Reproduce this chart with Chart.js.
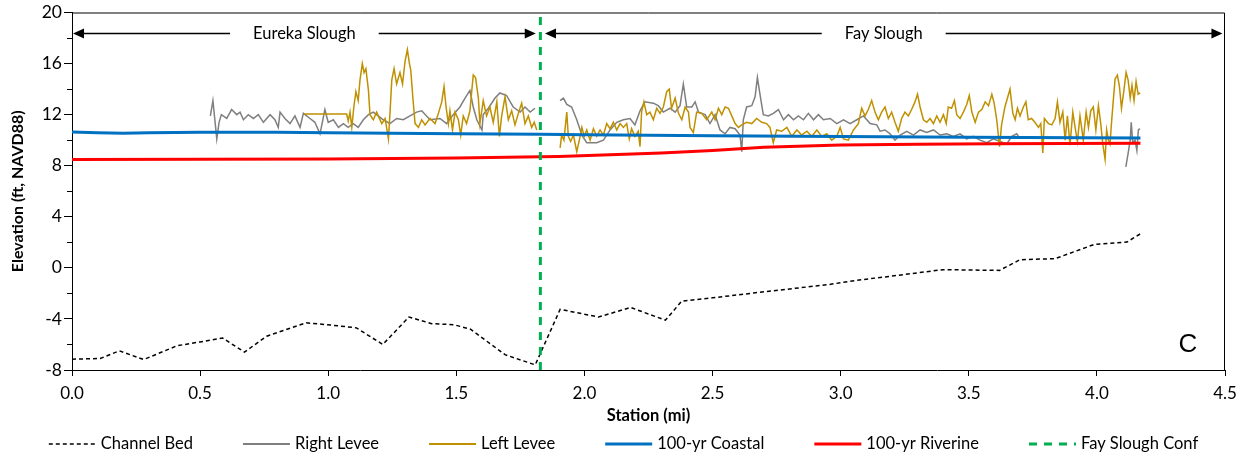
<!DOCTYPE html>
<html><head><meta charset="utf-8">
<script src="https://cdn.jsdelivr.net/npm/chart.js@4.4.1/dist/chart.umd.min.js"></script>
<style>html,body{margin:0;padding:0;background:#fff;}#wrap{width:1247px;height:456px;}</style>
</head><body><div id="wrap"><canvas id="c" width="1247" height="456"></canvas></div>
<script>
// ---------------- data ----------------
const seriesNames = ['Channel Bed', 'Right Levee', 'Left Levee', '100-yr Coastal', '100-yr Riverine', 'Fay Slough Conf'];

const bedStation = [0.0, 0.11, 0.185, 0.28, 0.41, 0.50, 0.588, 0.673, 0.76, 0.914, 1.02, 1.11, 1.213, 1.315, 1.404, 1.49, 1.555, 1.69, 1.808, 1.905, 2.055, 2.18, 2.316, 2.38, 2.50, 2.66, 2.96, 3.036, 3.40, 3.62, 3.70, 3.837, 3.99, 4.117, 4.17];
const bedElev    = [-7.15, -7.1, -6.5, -7.18, -6.1, -5.8, -5.5, -6.6, -5.35, -4.3, -4.5, -4.7, -6.0, -3.85, -4.37, -4.45, -4.8, -6.8, -7.6, -3.25, -3.85, -3.1, -4.1, -2.6, -2.35, -1.97, -1.29, -1.05, -0.14, -0.2, 0.64, 0.72, 1.84, 2.02, 2.67];

const rightStation = [0.54, 0.55, 0.558, 0.565, 0.574, 0.583, 0.604, 0.623, 0.643, 0.656, 0.669, 0.688, 0.708, 0.727, 0.747, 0.773, 0.792, 0.805, 0.812, 0.831, 0.851, 0.87, 0.89, 0.903, 0.929, 0.948, 0.968, 0.987, 1.0, 1.02, 1.04, 1.059, 1.078, 1.098, 1.117, 1.137, 1.157, 1.176, 1.195, 1.215, 1.241, 1.267, 1.293, 1.319, 1.345, 1.365, 1.397, 1.436, 1.462, 1.488, 1.514, 1.534, 1.553, 1.566, 1.58, 1.6, 1.605, 1.625, 1.651, 1.67, 1.696, 1.722, 1.749, 1.768, 1.788, 1.807,
  1.85,
  1.905, 1.918, 1.931, 1.95, 1.97, 1.99, 2.009, 2.048, 2.074, 2.1, 2.126, 2.152, 2.178, 2.197, 2.217, 2.236, 2.269, 2.288, 2.308, 2.334, 2.354, 2.373, 2.386, 2.399, 2.419, 2.432, 2.445, 2.471, 2.49, 2.51, 2.529, 2.549, 2.568, 2.588, 2.607, 2.614, 2.62, 2.633, 2.653, 2.666, 2.675, 2.685, 2.698, 2.718, 2.737, 2.757, 2.777, 2.796, 2.816, 2.835, 2.855, 2.874, 2.894, 2.913, 2.933, 2.959, 2.985, 3.011, 3.037, 3.063, 3.089, 3.115, 3.141, 3.154, 3.173, 3.193, 3.212, 3.232, 3.258, 3.284, 3.31, 3.336, 3.362, 3.388, 3.414, 3.44, 3.466, 3.492, 3.518, 3.544, 3.57, 3.596, 3.622, 3.648, 3.668, 3.687, 3.70,
  3.9,
  4.113, 4.123, 4.13, 4.134, 4.14, 4.149, 4.156, 4.162, 4.168];
const rightElev = [11.9, 13.1, 11.5, 10.1, 11.4, 12.0, 11.7, 12.4, 12.0, 12.2, 11.6, 12.0, 11.7, 12.0, 11.4, 12.0, 11.6, 11.0, 12.2, 11.7, 11.3, 11.9, 11.0, 12.1, 11.7, 11.4, 10.5, 12.4, 11.4, 11.6, 11.0, 11.3, 11.0, 11.3, 11.0, 11.6, 12.0, 12.2, 11.9, 11.6, 11.3, 11.7, 11.6, 11.9, 12.2, 12.3, 11.6, 11.7, 11.3, 12.0, 12.6, 13.3, 13.9, 12.6, 11.6, 10.8, 12.0, 12.5, 13.3, 13.7, 13.5, 12.6, 12.2, 12.6, 12.2, 12.5,
  null,
  13.1, 13.3, 12.8, 12.6, 11.6, 10.4, 9.8, 9.8, 10.0, 10.8, 11.4, 11.6, 11.7, 11.2, 12.3, 13.0, 12.9, 12.7, 12.2, 12.5, 12.2, 12.7, 14.4, 12.6, 12.6, 13.0, 12.2, 12.0, 11.3, 12.0, 10.8, 10.5, 11.0, 10.9, 10.4, 9.1, 11.6, 12.6, 12.7, 13.4, 14.9, 13.6, 12.0, 11.9, 12.1, 12.4, 11.6, 12.0, 11.6, 11.9, 11.6, 12.1, 11.6, 12.0, 11.6, 11.7, 11.3, 11.6, 11.3, 11.6, 11.9, 11.3, 11.2, 10.7, 10.8, 10.5, 10.0, 10.4, 10.7, 10.4, 10.8, 10.6, 10.8, 10.4, 10.5, 10.3, 10.5, 10.1, 10.3, 10.0, 9.8, 10.1, 9.9, 9.7, 10.3, 10.5, 10.1,
  null,
  7.9, 9.1, 10.0, 11.4, 9.8, 10.0, 9.2, 10.8, 10.9];

const leftStation = [0.906, 1.072, 1.078, 1.085, 1.092, 1.1, 1.108, 1.117, 1.124, 1.133, 1.14, 1.147, 1.157, 1.163, 1.176, 1.189, 1.209, 1.222, 1.235, 1.241, 1.248, 1.257, 1.267, 1.28, 1.29, 1.3, 1.309, 1.317, 1.322, 1.33, 1.339, 1.352, 1.365, 1.378, 1.397, 1.417, 1.43, 1.443, 1.452, 1.46, 1.469, 1.475, 1.485, 1.495, 1.508, 1.517, 1.527, 1.54, 1.553, 1.566, 1.575, 1.586, 1.592, 1.605, 1.618, 1.631, 1.644, 1.658, 1.668, 1.677, 1.69, 1.703, 1.716, 1.729, 1.742, 1.755, 1.768, 1.781, 1.794, 1.804, 1.814,
  1.86,
  1.905, 1.911, 1.92, 1.931, 1.937, 1.946, 1.957, 1.97, 1.98, 1.99, 1.999, 2.009, 2.022, 2.035, 2.048, 2.061, 2.074, 2.087, 2.1, 2.113, 2.126, 2.139, 2.152, 2.165, 2.175, 2.184, 2.197, 2.21, 2.217, 2.223, 2.232, 2.243, 2.256, 2.269, 2.282, 2.295, 2.308, 2.321, 2.331, 2.34, 2.354, 2.367, 2.38, 2.393, 2.406, 2.412, 2.425, 2.438, 2.458, 2.477, 2.497, 2.51, 2.523, 2.536, 2.549, 2.562, 2.575, 2.588, 2.601, 2.614, 2.633, 2.653, 2.672, 2.692, 2.711, 2.724, 2.737, 2.75, 2.77, 2.79, 2.809, 2.829, 2.848, 2.868, 2.887, 2.907, 2.926, 2.946, 2.965, 2.985, 2.998, 3.011, 3.03, 3.05, 3.069, 3.082, 3.095, 3.108, 3.121, 3.134, 3.147, 3.16, 3.173, 3.186, 3.199, 3.212, 3.225, 3.238, 3.251, 3.264, 3.277, 3.29, 3.3, 3.31, 3.323, 3.336, 3.349, 3.362, 3.375, 3.388, 3.401, 3.412, 3.42, 3.433, 3.444, 3.453, 3.466, 3.479, 3.492, 3.502, 3.512, 3.525, 3.538, 3.551, 3.564, 3.577, 3.59, 3.599, 3.609, 3.62, 3.628, 3.641, 3.651, 3.661, 3.672, 3.681, 3.69, 3.7, 3.713, 3.723, 3.732, 3.745, 3.758, 3.772, 3.781, 3.789, 3.795, 3.811, 3.824, 3.837, 3.846, 3.856, 3.867, 3.876, 3.885, 3.895, 3.906, 3.915, 3.924, 3.934, 3.947, 3.958, 3.967, 3.976, 3.986, 3.996, 4.006, 4.015, 4.023, 4.032, 4.038, 4.045, 4.051, 4.058, 4.064, 4.071, 4.08, 4.088, 4.096, 4.106, 4.114, 4.122, 4.13, 4.137, 4.145, 4.153, 4.161, 4.169];
const leftElev = [12.05, 12.05, 11.5, 12.2, 11.0, 12.6, 13.8, 13.1, 14.7, 16.0, 15.3, 15.6, 13.9, 12.0, 11.6, 12.2, 11.3, 11.7, 10.1, 12.1, 14.7, 15.6, 14.4, 15.3, 14.4, 16.2, 17.1, 16.0, 15.5, 13.4, 11.3, 11.0, 11.6, 11.2, 11.7, 11.3, 12.1, 13.0, 14.2, 12.6, 11.3, 12.3, 10.8, 12.2, 11.6, 10.4, 11.9, 11.3, 12.3, 15.1, 14.9, 13.3, 11.3, 13.1, 11.9, 12.6, 11.4, 13.0, 10.3, 11.9, 13.4, 11.6, 12.3, 11.2, 12.1, 12.9, 11.3, 11.9, 11.0, 11.4, 10.8,
  null,
  9.4, 10.4, 10.0, 12.2, 10.3, 9.9, 10.4, 9.1, 10.0, 11.0, 10.3, 10.8, 10.0, 10.9, 10.3, 10.8, 10.4, 11.3, 10.9, 11.4, 10.8, 11.3, 11.0, 11.3, 10.1, 10.9, 10.3, 10.7, 9.5, 12.2, 13.0, 12.0, 12.2, 11.6, 12.5, 12.1, 12.6, 13.8, 14.0, 12.5, 13.3, 12.1, 11.6, 12.6, 12.2, 11.0, 10.6, 12.2, 12.1, 11.6, 12.2, 11.6, 12.5, 12.0, 12.6, 12.5, 11.9, 11.3, 11.0, 11.2, 11.4, 11.3, 11.7, 11.4, 11.3, 11.0, 9.8, 10.8, 10.7, 11.0, 10.3, 10.8, 10.4, 10.7, 10.3, 10.8, 10.3, 10.5, 10.0, 10.3, 11.0, 10.1, 10.0, 10.8, 11.3, 12.5, 11.9, 12.4, 13.1, 12.2, 11.6, 12.2, 12.6, 11.7, 12.2, 11.4, 10.7, 11.7, 12.2, 11.9, 12.4, 13.0, 13.6, 12.6, 11.6, 11.4, 11.7, 11.3, 11.9, 11.4, 12.0, 11.3, 12.6, 12.5, 13.1, 12.0, 11.7, 12.2, 12.8, 13.5, 12.2, 11.4, 12.2, 12.4, 13.0, 12.7, 13.6, 12.9, 11.6, 9.5, 11.2, 12.6, 13.3, 14.0, 12.1, 11.6, 12.5, 11.9, 12.6, 13.0, 11.6, 11.7, 11.4, 11.0, 11.3, 9.0, 11.7, 11.3, 11.2, 11.7, 13.0, 11.4, 12.2, 10.0, 11.9, 9.6, 12.2, 11.0, 9.9, 11.9, 10.0, 12.2, 11.0, 12.3, 12.6, 10.8, 12.7, 11.3, 9.7, 8.5, 10.8, 10.0, 9.7, 11.6, 13.1, 14.8, 15.1, 14.2, 12.5, 14.0, 15.3, 14.7, 13.3, 14.3, 13.1, 14.6, 13.6, 13.7];

const coastalStation = [0.0, 0.1, 0.2, 0.3, 0.5, 0.8, 1.0, 1.5, 1.83, 2.0, 2.5, 3.0, 3.5, 4.17];
const coastalElev    = [10.64, 10.58, 10.55, 10.58, 10.62, 10.62, 10.58, 10.5, 10.46, 10.42, 10.34, 10.28, 10.22, 10.18];

const riverineStation = [0.0, 0.5, 1.0, 1.5, 1.83, 1.9, 2.1, 2.3, 2.5, 2.7, 3.0, 3.3, 3.6, 4.17];
const riverineElev    = [8.48, 8.5, 8.52, 8.6, 8.7, 8.72, 8.85, 9.0, 9.2, 9.45, 9.62, 9.68, 9.72, 9.76];

const confStation = [1.828, 1.828];
const confElev    = [-8, 20];

const xTickValues = [0.0, 0.5, 1.0, 1.5, 2.0, 2.5, 3.0, 3.5, 4.0, 4.5];
const yTickValues = [-8, -4, 0, 4, 8, 12, 16, 20];
const yMinorTickValues = [-6, -2, 2, 6, 10, 14, 18];

const sectionNames = ['Eureka Slough', 'Fay Slough'];
const sectionFrom  = [0.004, 1.846];
const sectionTo    = [1.81, 4.49];
const sectionElev  = 18.4;
const panelLabel = 'C';

// ---------------- chart ----------------
const FONT = 'Lato, "Open Sans", sans-serif';
const pts = (xs, ys) => xs.map((x, i) => ({x: x, y: ys[i]}));

const styles = [
  {color: '#000000', width: 1.5, dash: [4, 3], legendWidth: 1.5},
  {color: '#7F7F7F', width: 1.5, dash: [], legendWidth: 2},
  {color: '#BF9000', width: 1.5, dash: [], legendWidth: 2},
  {color: '#0070C0', width: 3, dash: [], legendWidth: 3},
  {color: '#FF0000', width: 3, dash: [], legendWidth: 3},
  {color: '#00B050', width: 3, dash: [8, 7], legendWidth: 3}
];
const seriesData = [
  pts(bedStation, bedElev),
  pts(rightStation, rightElev),
  pts(leftStation, leftElev),
  pts(coastalStation, coastalElev),
  pts(riverineStation, riverineElev),
  pts(confStation, confElev)
];

const datasets = seriesNames.map((name, i) => ({
  label: name,
  data: seriesData[i],
  borderColor: styles[i].color,
  backgroundColor: styles[i].color,
  borderWidth: styles[i].width,
  borderDash: styles[i].dash,
  pointRadius: 0,
  tension: 0,
  spanGaps: false,
  order: -i
}));

const overlay = {
  id: 'overlay',
  afterDraw(chart) {
    const ctx = chart.ctx;
    const ca = chart.chartArea;
    const xs = chart.scales.x, ys = chart.scales.y;
    ctx.save();
    // frame top / right
    ctx.strokeStyle = '#000'; ctx.lineWidth = 1;
    ctx.beginPath();
    ctx.moveTo(ca.left, ca.top + 0.5); ctx.lineTo(ca.right - 0.5, ca.top + 0.5); ctx.lineTo(ca.right - 0.5, ca.bottom);
    ctx.stroke();
    // minor y ticks
    ctx.beginPath();
    yMinorTickValues.forEach(v => {
      const y = Math.round(ys.getPixelForValue(v)) + 0.5;
      ctx.moveTo(ca.left - 5, y); ctx.lineTo(ca.left, y);
    });
    ctx.stroke();
    // sections
    const ay = Math.round(ys.getPixelForValue(sectionElev)) + 0.5;
    ctx.font = '16.5px ' + FONT;
    ctx.fillStyle = '#000'; ctx.textAlign = 'center'; ctx.textBaseline = 'middle';
    ctx.lineWidth = 1.5;
    sectionNames.forEach((name, i) => {
      const xa = xs.getPixelForValue(sectionFrom[i]);
      const xb = xs.getPixelForValue(sectionTo[i]);
      const mid = (xa + xb) / 2;
      const w = ctx.measureText(name).width;
      ctx.fillText(name, mid, ay);
      ctx.beginPath();
      ctx.moveTo(xa + 8, ay); ctx.lineTo(mid - w / 2 - 23, ay);
      ctx.moveTo(mid + w / 2 + 23, ay); ctx.lineTo(xb - 8, ay);
      ctx.stroke();
      ctx.beginPath();
      ctx.moveTo(xa, ay); ctx.lineTo(xa + 11, ay - 5); ctx.lineTo(xa + 11, ay + 5); ctx.closePath();
      ctx.moveTo(xb, ay); ctx.lineTo(xb - 11, ay - 5); ctx.lineTo(xb - 11, ay + 5); ctx.closePath();
      ctx.fill();
    });
    // panel label
    ctx.font = '26px "Liberation Sans", Arial, sans-serif';
    ctx.textAlign = 'center';
    ctx.fillText(panelLabel, 1188, 345);
    // legend
    ctx.font = '16.5px ' + FONT;
    ctx.textAlign = 'left';
    const lineLen = 47, gapText = 5, gapItem = 50;
    const widths = chart.data.datasets.map(d => lineLen + gapText + ctx.measureText(d.label).width);
    const total = widths.reduce((a, b) => a + b, 0) + gapItem * (widths.length - 1);
    let x = (chart.width - total) / 2;
    const ly = 444;
    chart.data.datasets.forEach((d, i) => {
      ctx.strokeStyle = d.borderColor;
      ctx.lineWidth = styles[i].legendWidth;
      ctx.setLineDash(d.borderDash);
      ctx.beginPath(); ctx.moveTo(x, ly); ctx.lineTo(x + lineLen, ly); ctx.stroke();
      ctx.setLineDash([]);
      ctx.fillStyle = '#000';
      ctx.fillText(d.label, x + lineLen + gapText, ly);
      x += widths[i] + gapItem;
    });
    ctx.restore();
  }
};

new Chart(document.getElementById('c'), {
  type: 'line',
  data: {datasets: datasets},
  options: {
    responsive: false,
    animation: false,
    events: [],
    layout: {padding: {left: 0, right: 22, top: 12, bottom: 30}},
    plugins: {legend: {display: false}, tooltip: {enabled: false}},
    scales: {
      x: {
        type: 'linear', min: 0, max: 4.5,
        afterBuildTicks: s => { s.ticks = xTickValues.map(v => ({value: v})); },
        afterFit: s => { s.height = 56; },
        grid: {drawOnChartArea: false, drawTicks: true, tickLength: 6, color: '#000', tickWidth: 1},
        border: {color: '#000', width: 1},
        ticks: {color: '#000', padding: 7, maxRotation: 0, autoSkip: false, font: {family: FONT, size: 17}, callback: v => Number(v).toFixed(1)},
        title: {display: true, text: 'Station (mi)', color: '#000', padding: {top: 0, bottom: 0}, font: {family: FONT, size: 16.5, weight: 'bold'}}
      },
      y: {
        type: 'linear', min: -8, max: 20,
        afterBuildTicks: s => { s.ticks = yTickValues.map(v => ({value: v})); },
        afterFit: s => { s.width = 72; },
        grid: {drawOnChartArea: false, drawTicks: true, tickLength: 8, color: '#000', tickWidth: 1},
        border: {color: '#000', width: 1},
        ticks: {color: '#000', padding: 2, autoSkip: false, font: {family: FONT, size: 17.5}, callback: v => String(v)},
        title: {display: true, text: 'Elevation (ft, NAVD88)', color: '#000', padding: {top: 8, bottom: 0}, font: {family: FONT, size: 16, weight: 'bold'}}
      }
    }
  },
  plugins: [overlay]
});
</script>
</body></html>
